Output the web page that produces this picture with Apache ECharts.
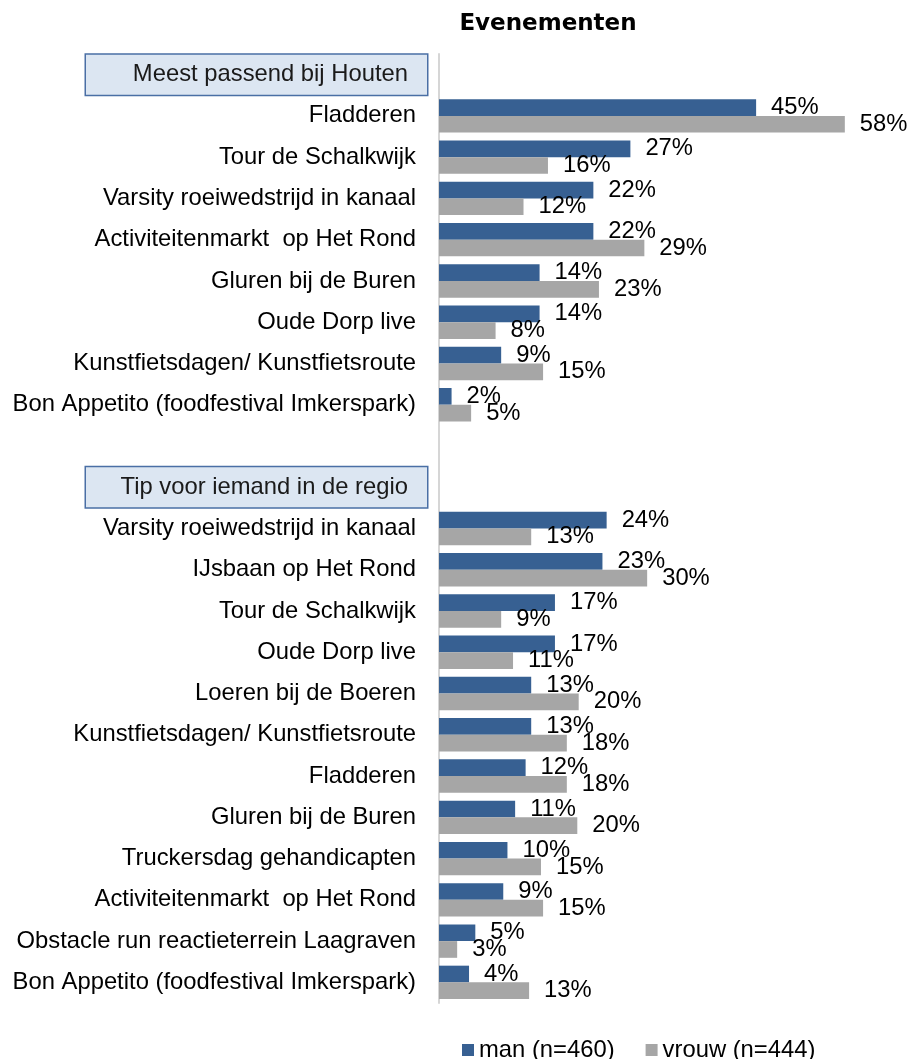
<!DOCTYPE html>
<html>
<head>
<meta charset="utf-8">
<title>Evenementen</title>
<script src="https://cdn.jsdelivr.net/npm/echarts@6/dist/echarts.min.js"></script>
<style>
  html, body { margin: 0; padding: 0; background: #fff; }
  #main { width: 912px; height: 1059px; }
</style>
</head>
<body>
<div id="main"></div>
<script>
// kopjes van de twee blokken
var header1 = 'Meest passend bij Houten';
var header2 = 'Tip voor iemand in de regio';

var cats1 = ['Fladderen', 'Tour de Schalkwijk', 'Varsity roeiwedstrijd in kanaal', 'Activiteitenmarkt  op Het Rond',
  'Gluren bij de Buren', 'Oude Dorp live', 'Kunstfietsdagen/ Kunstfietsroute', 'Bon Appetito (foodfestival Imkerspark)'];
var man1 = [45.4, 27.4, 22.1, 22.1, 14.4, 14.4, 8.9, 1.8];
var vrouw1 = [58.1, 15.6, 12.1, 29.4, 22.9, 8.1, 14.9, 4.6];

var cats2 = ['Varsity roeiwedstrijd in kanaal', 'IJsbaan op Het Rond', 'Tour de Schalkwijk', 'Oude Dorp live',
  'Loeren bij de Boeren', 'Kunstfietsdagen/ Kunstfietsroute', 'Fladderen', 'Gluren bij de Buren',
  'Truckersdag gehandicapten', 'Activiteitenmarkt  op Het Rond', 'Obstacle run reactieterrein Laagraven',
  'Bon Appetito (foodfestival Imkerspark)'];
var man2 = [24.0, 23.4, 16.6, 16.6, 13.2, 13.2, 12.4, 10.9, 9.8, 9.2, 5.2, 4.3];
var vrouw2 = [13.2, 29.8, 8.9, 10.6, 20.0, 18.3, 18.3, 19.8, 14.6, 14.9, 2.6, 12.9];

var seriesNames = ['man (n=460)', 'vrouw (n=444)'];

// categorie-as opbouwen: kopje, items, lege regel, kopje, items
var cats = [header1].concat(cats1, [' ', header2], cats2);
var manData = ['-'].concat(man1, ['-', '-'], man2);
var vrouwData = ['-'].concat(vrouw1, ['-', '-'], vrouw2);

var font = "'Liberation Sans', Arial, sans-serif";
var fs = 23.8;

var myChart = echarts.init(document.getElementById('main'));

var labelOpt = {
  show: true,
  position: 'right',
  distance: 15,
  color: '#000',
  fontFamily: font,
  fontSize: fs,
  formatter: function (p) { return Math.round(p.value) + '%'; }
};

var option = {
  animation: false,
  title: {
    text: 'Evenementen',
    left: 543,
    top: 8,
    textAlign: 'center',
    textStyle: { fontFamily: "'DejaVu Sans', sans-serif", fontWeight: 'bold', fontSize: 23, color: '#000' }
  },
  legend: {
    left: 457,
    top: 1033,
    itemWidth: 12,
    itemHeight: 12,
    itemGap: 31,
    icon: 'rect',
    textStyle: { fontFamily: font, fontSize: fs, color: '#000' },
    data: seriesNames
  },
  grid: { left: 439, right: 53.9, top: 54, bottom: 56 },
  xAxis: { type: 'value', min: 0, max: 60, show: false },
  yAxis: {
    type: 'category',
    inverse: true,
    data: cats,
    axisLine: { show: true, lineStyle: { color: '#D6D6D6', width: 2 } },
    axisTick: { show: false },
    axisLabel: {
      interval: 0,
      margin: 12,
      fontFamily: font,
      fontSize: fs,
      color: '#000',
      formatter: function (v) {
        if (v === header1 || v === header2) return '{h|' + v + '}';
        return '{n|' + v + '}';
      },
      rich: {
        n: { fontFamily: font, fontSize: fs, color: '#000', padding: [0, 11, 0, 0] },
        h: {
          fontFamily: font, fontSize: fs, color: '#1a1a1a',
          width: 322, align: 'right', lineHeight: 23,
          padding: [8, 19, 8, 0],
          backgroundColor: '#DCE6F2', borderColor: '#4A6FA5', borderWidth: 1.5
        }
      }
    }
  },
  series: [
    {
      name: seriesNames[0], type: 'bar', data: manData,
      barWidth: 16.7, barGap: '0%',
      itemStyle: { color: '#376092' },
      label: labelOpt
    },
    {
      name: seriesNames[1], type: 'bar', data: vrouwData,
      barWidth: 16.7, barGap: '0%',
      itemStyle: { color: '#A6A6A6' },
      label: labelOpt
    }
  ]
};
option && myChart.setOption(option);
</script>
</body>
</html>
